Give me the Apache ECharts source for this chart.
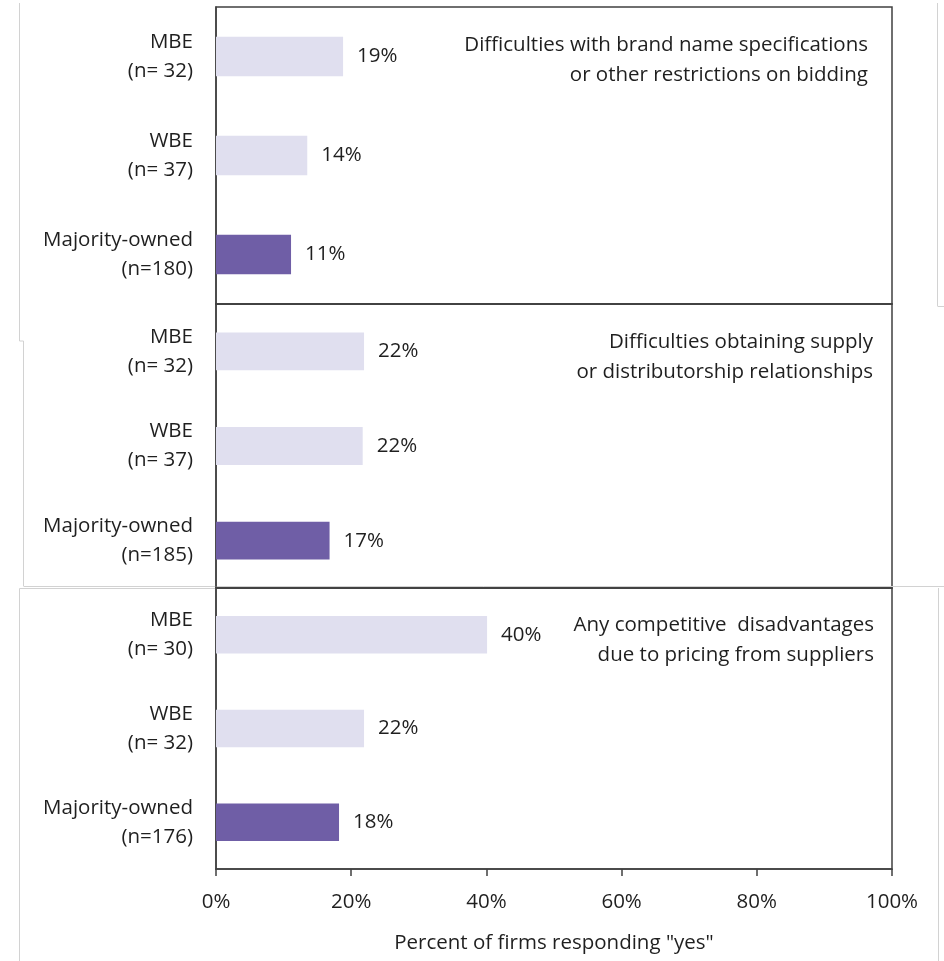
<!DOCTYPE html>
<html>
<head>
<meta charset="utf-8">
<script src="https://cdn.jsdelivr.net/npm/echarts@6/dist/echarts.min.js"></script>
<style>
  html, body { margin: 0; padding: 0; background: #fff; }
  #mainChart { width: 944px; height: 961px; }
</style>
</head>
<body>
<div id="mainChart"></div>
<script>
var groupNames = ["MBE", "WBE", "Majority-owned"];
var nLabels1 = ["(n= 32)", "(n= 37)", "(n=180)"];
var nLabels2 = ["(n= 32)", "(n= 37)", "(n=185)"];
var nLabels3 = ["(n= 30)", "(n= 32)", "(n=176)"];
var values1 = [18.8, 13.5, 11.1];
var values2 = [21.9, 21.7, 16.8];
var values3 = [40.1, 21.9, 18.2];
var valueLabels1 = ["19%", "14%", "11%"];
var valueLabels2 = ["22%", "22%", "17%"];
var valueLabels3 = ["40%", "22%", "18%"];
var panelTitles = [
    "Difficulties with brand name specifications\nor other restrictions on bidding",
    "Difficulties obtaining supply\nor distributorship relationships",
    "Any competitive  disadvantages\ndue to pricing from suppliers"
];
var xAxisName = 'Percent of firms responding "yes"';

var fontName = "Open Sans";
var fontSize = 20.5;
var textColor = "#1f1f1f";
var lineColor = "#404040";
var frameColor = "#d2d2d2";
var lightColor = "#e0dfef";
var darkColor = "#6f5ea6";

var myChart = echarts.init(document.getElementById("mainChart"));

var panels = [
    {top: 7, height: 297, n: nLabels1, v: values1, l: valueLabels1},
    {top: 304, height: 284, n: nLabels2, v: values2, l: valueLabels2},
    {top: 588, height: 281, n: nLabels3, v: values3, l: valueLabels3}
];

var grids = [], xAxes = [], yAxes = [], series = [];
for (var i = 0; i < panels.length; i++) {
    var p = panels[i];
    var last = i === panels.length - 1;
    grids.push({
        left: 216, right: 52, top: p.top, height: p.height,
        show: true, borderColor: lineColor, borderWidth: 1.5, backgroundColor: "transparent"
    });
    var cats = [];
    for (var j = 0; j < groupNames.length; j++) {
        cats.push(groupNames[j] + "\n" + p.n[j]);
    }
    xAxes.push({
        type: "value", gridIndex: i, min: 0, max: 100, interval: 20,
        splitLine: {show: false},
        axisLine: {show: true, lineStyle: {color: lineColor, width: 1.5}},
        axisTick: {show: last, length: 7, lineStyle: {color: lineColor, width: 1.5}},
        axisLabel: {
            show: last, formatter: "{value}%", margin: 23,
            fontFamily: fontName, fontSize: fontSize, color: textColor
        },
        name: last ? xAxisName : "",
        nameLocation: "middle", nameGap: 64,
        nameTextStyle: {fontFamily: fontName, fontSize: fontSize, color: textColor}
    });
    yAxes.push({
        type: "category", gridIndex: i, inverse: true, data: cats,
        axisLine: {show: true, lineStyle: {color: lineColor, width: 1.5}},
        axisTick: {show: false},
        axisLabel: {
            margin: 23, fontFamily: fontName, fontSize: fontSize, color: textColor,
            lineHeight: 29, align: "right", verticalAlign: "middle", padding: [8, 0, 0, 0]
        }
    });
    var data = [];
    for (var k = 0; k < p.v.length; k++) {
        data.push({
            value: p.v[k],
            itemStyle: {color: k === 2 ? darkColor : lightColor}
        });
    }
    series.push({
        type: "bar", xAxisIndex: i, yAxisIndex: i, data: data,
        barCategoryGap: "60%",
        label: {
            show: true, position: "right", distance: 14,
            fontFamily: fontName, fontSize: fontSize, color: textColor,
            formatter: (function (labels) {
                return function (params) { return labels[params.dataIndex]; };
            })(p.l)
        },
        silent: true
    });
}

function titleText(x, y, text) {
    return {
        type: "text", x: x, y: y, silent: true,
        style: {
            text: text, align: "right", textAlign: "right", verticalAlign: "top",
            fontFamily: fontName, fontSize: fontSize, fill: textColor, lineHeight: 30
        }
    };
}
function frameLine(x1, y1, x2, y2) {
    return {
        type: "line", silent: true,
        shape: {x1: x1, y1: y1, x2: x2, y2: y2},
        style: {stroke: frameColor, lineWidth: 1}
    };
}

var graphics = [
    titleText(868, 30, panelTitles[0]),
    titleText(873, 327, panelTitles[1]),
    titleText(874, 610, panelTitles[2]),
    frameLine(19.5, 3, 19.5, 341),
    frameLine(19.5, 341, 23.5, 341),
    frameLine(23.5, 341, 23.5, 586),
    frameLine(23.5, 586.5, 944, 586.5),
    frameLine(19.5, 588.5, 216, 588.5),
    frameLine(19.5, 588.5, 19.5, 961),
    frameLine(937.5, 3, 937.5, 306),
    frameLine(937.5, 306.5, 944, 306.5),
    frameLine(938.5, 588, 938.5, 961)
];

var option = {
    animation: false,
    backgroundColor: "#fff",
    grid: grids,
    xAxis: xAxes,
    yAxis: yAxes,
    series: series,
    graphic: graphics
};

myChart.setOption(option);
</script>
</body>
</html>
